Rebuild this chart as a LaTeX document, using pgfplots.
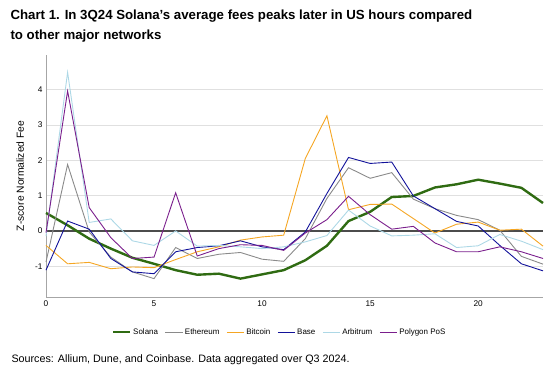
\documentclass[border=0pt]{standalone}
\usepackage{fontspec}
\setmainfont{Liberation Sans}
\usepackage{pgfplots}
\pgfplotsset{compat=1.18}
\definecolor{solana}{HTML}{2F6B12}
\definecolor{eth}{HTML}{8A8A8A}
\definecolor{btc}{HTML}{F5A623}
\definecolor{base}{HTML}{12129A}
\definecolor{arb}{HTML}{ADD8E6}
\definecolor{poly}{HTML}{7A1E8C}
\begin{document}
\begin{tikzpicture}
\path[use as bounding box] (0bp,0bp) rectangle (551bp,375bp);
\node[anchor=base west,font=\fontsize{13.3}{16}\selectfont\bfseries] at (7bp,355bp) {Chart 1. In 3Q24 Solana’s average fees peaks later in US hours compared};
\node[anchor=base west,font=\fontsize{13.3}{16}\selectfont\bfseries] at (7bp,335bp) {to other major networks};
\node[anchor=base west,font=\fontsize{10.8}{13}\selectfont] at (8bp,13bp) {Sources: Allium, Dune, and Coinbase. Data aggregated over Q3 2024.};
\begin{axis}[
  at={(46bp,78bp)}, anchor=south west,
  scale only axis, width=497bp, height=242bp,
  xmin=0, xmax=23, ymin=-1.87, ymax=4.98,
  axis x line*=bottom, axis y line*=left,
  axis line style={-, draw=black!35, line width=0.8pt},
  xtick={0,5,10,15,20}, ytick={-1,1,2,3,4},
  extra y ticks={0},
  extra y tick style={grid style={draw=black!70, line width=1.6pt}},
  major tick length=0pt,
  ymajorgrids, grid style={draw=black!12, line width=0.7pt},
  tick label style={font=\fontsize{8.3}{10}\selectfont},
  /pgf/number format/assume math mode=true,
  ylabel={Z-score Normalized Fee},
  ylabel style={font=\fontsize{10.3}{12}\selectfont, at={(axis description cs:-0.052,0.5)}, anchor=center},
  legend columns=6,
  legend style={at={(0.47,-0.145)}, anchor=center, draw=none, fill=none, font=\fontsize{8}{10}\selectfont, /tikz/every even column/.append style={column sep=5bp}},
  legend cell align=left,
  clip=false,
]
\addplot[solana, line width=2.4pt] coordinates {(0,0.51)(1,0.16)(2,-0.22)(3,-0.5)(4,-0.76)(5,-0.93)(6,-1.11)(7,-1.24)(8,-1.21)(9,-1.35)(10,-1.23)(11,-1.11)(12,-0.83)(13,-0.42)(14,0.28)(15,0.54)(16,0.96)(17,0.99)(18,1.23)(19,1.32)(20,1.45)(21,1.34)(22,1.22)(23,0.79)};
\addlegendentry{Solana}
\addplot[eth, line width=0.9pt] coordinates {(0,-0.88)(1,1.88)(2,-0.03)(3,-0.74)(4,-1.16)(5,-1.35)(6,-0.47)(7,-0.78)(8,-0.66)(9,-0.61)(10,-0.8)(11,-0.86)(12,-0.22)(13,0.92)(14,1.79)(15,1.49)(16,1.65)(17,0.9)(18,0.63)(19,0.44)(20,0.32)(21,0.02)(22,-0.72)(23,-0.94)};
\addlegendentry{Ethereum}
\addplot[btc, line width=0.9pt] coordinates {(0,-0.41)(1,-0.93)(2,-0.89)(3,-1.07)(4,-1.02)(5,-1.04)(6,-0.81)(7,-0.59)(8,-0.45)(9,-0.26)(10,-0.17)(11,-0.12)(12,2.05)(13,3.26)(14,0.6)(15,0.75)(16,0.76)(17,0.35)(18,-0.06)(19,0.19)(20,0.25)(21,0.02)(22,0.05)(23,-0.43)};
\addlegendentry{Bitcoin}
\addplot[base, line width=0.9pt] coordinates {(0,-1.11)(1,0.28)(2,0.05)(3,-0.78)(4,-1.16)(5,-1.21)(6,-0.59)(7,-0.47)(8,-0.42)(9,-0.28)(10,-0.45)(11,-0.53)(12,-0.03)(13,1.06)(14,2.08)(15,1.91)(16,1.95)(17,0.99)(18,0.63)(19,0.27)(20,0.14)(21,-0.41)(22,-0.93)(23,-1.13)};
\addlegendentry{Base}
\addplot[arb, line width=0.9pt] coordinates {(0,-0.15)(1,4.49)(2,0.24)(3,0.34)(4,-0.28)(5,-0.41)(6,0.0)(7,-0.43)(8,-0.41)(9,-0.45)(10,-0.5)(11,-0.45)(12,-0.31)(13,-0.13)(14,0.59)(15,0.14)(16,-0.14)(17,-0.12)(18,-0.08)(19,-0.47)(20,-0.42)(21,-0.1)(22,-0.29)(23,-0.53)};
\addlegendentry{Arbitrum}
\addplot[poly, line width=0.9pt] coordinates {(0,-0.05)(1,3.96)(2,0.66)(3,-0.19)(4,-0.78)(5,-0.74)(6,1.08)(7,-0.71)(8,-0.5)(9,-0.39)(10,-0.41)(11,-0.55)(12,-0.06)(13,0.32)(14,0.98)(15,0.46)(16,0.05)(17,0.13)(18,-0.34)(19,-0.59)(20,-0.59)(21,-0.45)(22,-0.59)(23,-0.78)};
\addlegendentry{Polygon PoS}
\end{axis}
\end{tikzpicture}
\end{document}
